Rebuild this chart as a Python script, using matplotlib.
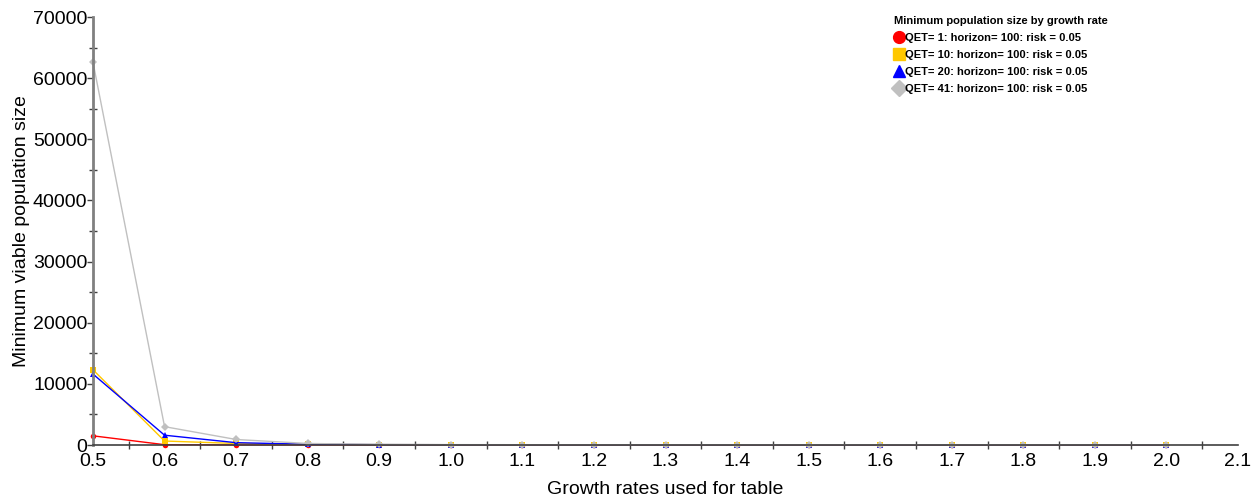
import numpy as np
import matplotlib.pyplot as plt
from matplotlib.lines import Line2D
from matplotlib.ticker import MultipleLocator, FixedLocator

plt.rcParams['font.family'] = ['Liberation Sans', 'DejaVu Sans']

# growth rates (category axis)
growth = [0.5, 0.6, 0.7, 0.8, 0.9, 1.0, 1.1, 1.2, 1.3, 1.4, 1.5, 1.6, 1.7, 1.8, 1.9, 2.0]

qet1 = [1500, 50, 20, 10, 5, 5, 5, 5, 5, 5, 5, 5, 5, 5, 5, 5]
qet10 = [12300, 650, 250, 100, 60, 50, 50, 50, 50, 50, 50, 50, 50, 50, 50, 50]
qet20 = [11600, 1600, 380, 120, 60, 50, 50, 50, 50, 50, 50, 50, 50, 50, 50, 50]
qet41 = [62600, 3000, 900, 250, 100, 60, 50, 50, 50, 50, 50, 50, 50, 50, 50, 50]

labels = ['QET= 1: horizon= 100: risk = 0.05',
          'QET= 10: horizon= 100: risk = 0.05',
          'QET= 20: horizon= 100: risk = 0.05',
          'QET= 41: horizon= 100: risk = 0.05']

series = [qet1, qet10, qet20, qet41]
colors = ['#ff0000', '#ffc800', '#0000ff', '#c0c0c0']
markers = ['o', 's', '^', 'D']
msizes = [4, 4.5, 4.5, 4]

fig = plt.figure(figsize=(12.6, 5), dpi=100)
ax = fig.add_axes([93 / 1260, 55 / 500, 1145 / 1260, 428 / 500])

for vals, c, m, ms in zip(series, colors, markers, msizes):
    ax.plot(growth, vals, color=c, lw=1, marker=m, ms=ms,
            markeredgewidth=0, clip_on=False)

ax.set_xlim(0.5, 2.1)
ax.set_ylim(0, 70000)

ax.xaxis.set_major_locator(MultipleLocator(0.1))
ax.xaxis.set_major_formatter(lambda v, p: f'{v:.1f}')
ax.xaxis.set_minor_locator(FixedLocator(list(np.arange(0.55, 2.09, 0.1)) + [2.1]))
ax.yaxis.set_major_locator(MultipleLocator(10000))
ax.yaxis.set_minor_locator(MultipleLocator(5000))

ax.tick_params(axis='x', which='major', length=0, pad=6, labelsize=14)
ax.tick_params(axis='x', which='minor', direction='inout', length=6,
               width=1, color='#404040')
ax.tick_params(axis='y', which='major', direction='out', length=4,
               width=1, color='#404040', pad=0, labelsize=14)
ax.tick_params(axis='y', which='minor', direction='inout', length=6,
               width=1, color='#404040')

for s in ['top', 'right']:
    ax.spines[s].set_visible(False)
ax.spines['left'].set_color('#808080')
ax.spines['left'].set_linewidth(2)
ax.spines['bottom'].set_color('#404040')
ax.spines['bottom'].set_linewidth(1.2)

ax.set_xlabel('Growth rates used for table', fontsize=14, labelpad=8)
ax.set_ylabel('Minimum viable population size', fontsize=14)
ax.yaxis.set_label_coords(-0.055, 0.5)

handles = [Line2D([], [], color=c, marker=m, ls='none', ms=8.5)
           for c, m in zip(colors, markers)]
leg = ax.legend(handles, labels, loc='upper left', bbox_to_anchor=(0.696, 1.012),
                frameon=False, prop={'size': 8, 'weight': 'bold'},
                title='Minimum population size by growth rate',
                title_fontproperties={'size': 8, 'weight': 'bold'},
                handlelength=0.8, handletextpad=0.2, labelspacing=0.62,
                borderaxespad=0)
leg._legend_box.align = 'left'

fig.savefig('out.png', dpi=100)
